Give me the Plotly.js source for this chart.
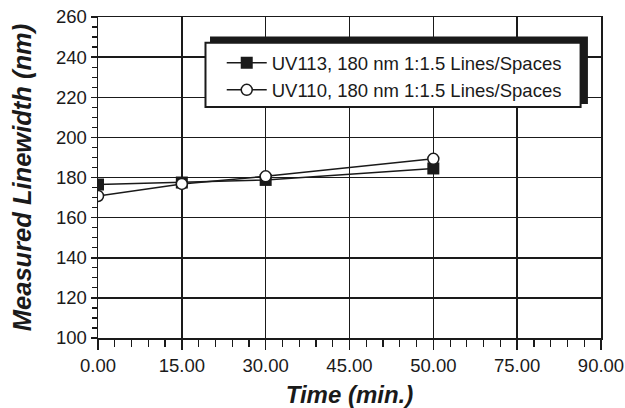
<!DOCTYPE html>
<html><head><meta charset="utf-8">
<script src="https://cdn.plot.ly/plotly-3.0.1.min.js"></script>
<style>body{margin:0;background:#fff}#c{width:625px;height:408px}</style>
</head><body><div id="c"></div>
<script>
const tickLabels = ["0.00","15.00","30.00","45.00","50.00","75.00","90.00"];
const times = ["0.00","15.00","30.00","50.00"];
const uv113 = [176.5, 177.5, 178.8, 184.5];
const uv110 = [170.8, 176.8, 180.6, 189.3];
const names = ["UV113, 180 nm 1:1.5 Lines/Spaces", "UV110, 180 nm 1:1.5 Lines/Spaces"];

const xpos = times.map(t => tickLabels.indexOf(t));
const ink = "#1a1a1a";
const traces = [
  {x: xpos, y: uv113, name: names[0], mode: "lines+markers", type: "scatter",
   line: {color: ink, width: 1.5}, marker: {symbol: "square", size: 12, color: ink}},
  {x: xpos, y: uv110, name: names[1], mode: "lines+markers", type: "scatter",
   line: {color: ink, width: 1.5}, marker: {symbol: "circle", size: 11, color: "#fff", line: {color: ink, width: 1.5}}}
];
const fam = "Liberation Sans, Arial, sans-serif";
const titleFont = {family: fam, size: 24, color: ink, weight: "bold", style: "italic"};
const layout = {
  width: 625, height: 408,
  margin: {l: 98, r: 24, t: 17, b: 70},
  paper_bgcolor: "#fff", plot_bgcolor: "#fff",
  font: {family: fam, size: 18, color: ink},
  showlegend: true,
  legend: {x: 0.246, y: 0.915, xanchor: "left", yanchor: "top", bgcolor: "rgba(0,0,0,0)",
    borderwidth: 0, font: {family: fam, size: 18.5, color: ink},
    tracegroupgap: 0, itemwidth: 40},
  xaxis: {range: [0, 6], tickvals: tickLabels.map((_, i) => i), ticktext: tickLabels,
    showgrid: true, gridcolor: ink, gridwidth: 1.5, zeroline: false,
    showline: true, linecolor: ink, linewidth: 1.5, mirror: true,
    ticks: "outside", ticklen: 10, tickwidth: 1.5, tickcolor: ink,
    minor: {dtick: 0.2, tick0: 0, ticks: "outside", ticklen: 7, tickwidth: 1.2, tickcolor: ink, showgrid: false},
    tickfont: {size: 18.5, color: ink},
    title: {text: "Time (min.)", font: titleFont, standoff: 14}},
  yaxis: {range: [100, 260], dtick: 20, tick0: 100,
    showgrid: true, gridcolor: ink, gridwidth: 1.5, zeroline: false,
    showline: true, linecolor: ink, linewidth: 1.5, mirror: true,
    ticks: "outside", ticklen: 6, tickwidth: 1.5, tickcolor: ink,
    minor: {dtick: 5, ticks: "outside", ticklen: 5, tickwidth: 1.2, tickcolor: ink, showgrid: false},
    tickfont: {size: 18.5, color: ink},
    title: {text: "Measured Linewidth (nm)", font: Object.assign({}, titleFont, {size: 25.5}), standoff: 17}},
  shapes: [
    {type: "rect", xref: "paper", yref: "paper", layer: "above",
     x0: 0.2227, x1: 0.974, y0: 0.729, y1: 0.939, fillcolor: ink, line: {width: 0}},
    {type: "rect", xref: "paper", yref: "paper", layer: "above",
     x0: 0.2137, x1: 0.9594, y0: 0.7195, y1: 0.9200, fillcolor: "#fff", line: {color: ink, width: 2}}
  ]
};
Plotly.newPlot("c", traces, layout, {displayModeBar: false, staticPlot: true});
</script></body></html>
